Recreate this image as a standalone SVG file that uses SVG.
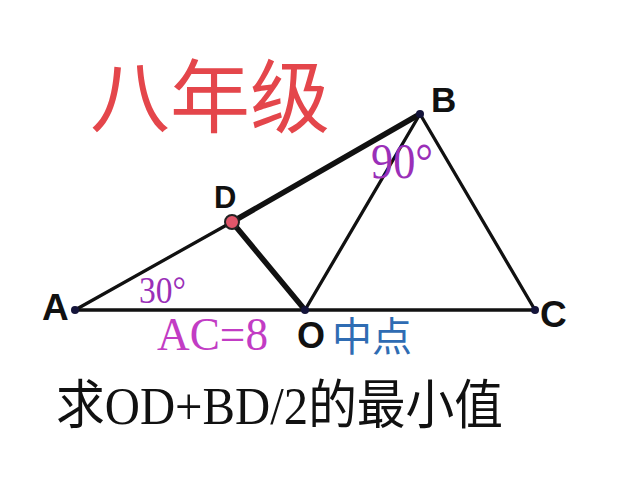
<svg xmlns="http://www.w3.org/2000/svg" width="640" height="503" viewBox="0 0 640 503">
<style>
.ln{stroke:#111;stroke-linecap:round;fill:none}
.thin{stroke-width:3.3}
.thick{stroke-width:5.5}
.pt{fill:#14143a}
.lbl{font-family:"Liberation Sans",Arial,sans-serif;font-weight:bold;fill:#111}
.ang{font-family:"Liberation Serif","Times New Roman",serif;fill:#9a2fb8}
</style>
<rect width="640" height="503" fill="#fff"/>
<g id="title"><text x="90" y="126" font-family="'Noto Sans CJK SC',sans-serif" font-size="80" fill="#e4464b" textLength="240" lengthAdjust="spacingAndGlyphs">八年级</text></g>
<g id="connectors">
<line class="ln thin" x1="75" y1="310" x2="232" y2="222"/>
<line class="ln thick" x1="232" y1="222" x2="420" y2="114"/>
<line class="ln thick" x1="232" y1="222" x2="305" y2="310"/>
<line class="ln thin" x1="305" y1="310" x2="420" y2="114"/>
<line class="ln thin" x1="420" y1="114" x2="535" y2="310"/>
<line class="ln thin" x1="75" y1="310" x2="535" y2="310"/>
</g>
<g id="A"><circle class="pt" cx="75" cy="310" r="4"/><text class="lbl" x="42" y="320" font-size="37">A</text></g>
<g id="B"><circle class="pt" cx="420" cy="114" r="4"/><text class="lbl" x="431" y="112" font-size="35">B</text></g>
<g id="C"><circle class="pt" cx="535" cy="310" r="4"/><text class="lbl" x="540" y="327" font-size="37">C</text></g>
<g id="O"><circle class="pt" cx="305" cy="310" r="4"/><text class="lbl" x="297" y="348" font-size="36">O</text></g>
<g id="D"><circle cx="232" cy="222" r="7" fill="#e0566a" stroke="#222" stroke-width="2"/><text class="lbl" x="214" y="208" font-size="31">D</text></g>
<g id="angle30"><text class="ang" x="139" y="303" font-size="38" textLength="47" lengthAdjust="spacingAndGlyphs">30°</text></g>
<g id="angle90"><text class="ang" x="371" y="178" font-size="50" textLength="62" lengthAdjust="spacingAndGlyphs">90°</text></g>
<g id="ac"><text x="157" y="350" font-family="'Liberation Serif','Times New Roman',serif" font-size="47" fill="#c23cc4" textLength="111" lengthAdjust="spacingAndGlyphs">AC=8</text></g>
<g id="mid"><text x="332" y="351" font-family="'Noto Sans CJK SC',sans-serif" font-size="40" fill="#2f6cb3" textLength="80" lengthAdjust="spacingAndGlyphs">中点</text></g>
<g id="question"><text x="56" y="424" font-family="'Liberation Serif','Noto Sans CJK SC',serif" font-size="53" fill="#111" textLength="447" lengthAdjust="spacingAndGlyphs">求OD+BD/2的最小值</text></g>
</svg>
